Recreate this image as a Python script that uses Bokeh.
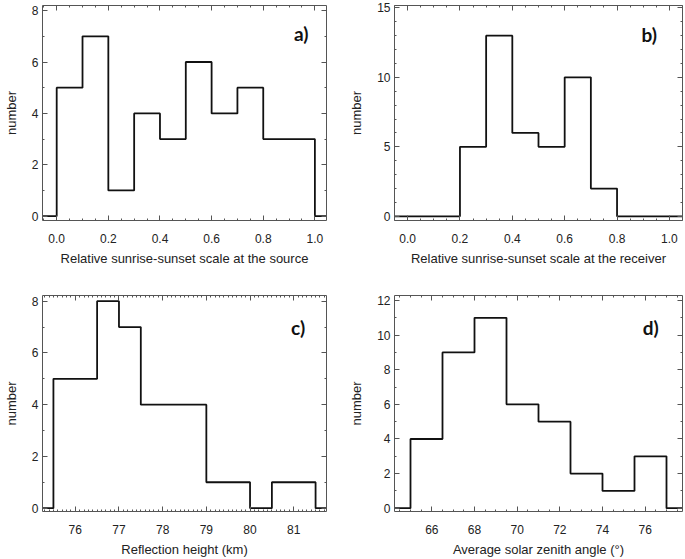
from bokeh.plotting import figure
from bokeh.layouts import column, row
from bokeh.models import (LinearAxis, SingleIntervalTicker, Range1d, Label,
                          PrintfTickFormatter, CustomLabelingPolicy)
from bokeh.embed import file_html
from bokeh.resources import INLINE

# ---- data ----
a_edges = [-0.1, 0.0, 0.1, 0.2, 0.3, 0.4, 0.5, 0.6, 0.7, 0.8, 0.9, 1.0, 1.1]
a_counts = [0, 5, 7, 1, 4, 3, 6, 4, 5, 3, 3, 0]

b_edges = [-0.1, 0.0, 0.1, 0.2, 0.3, 0.4, 0.5, 0.6, 0.7, 0.8, 0.9, 1.0, 1.1]
b_counts = [0, 0, 0, 5, 13, 6, 5, 10, 2, 0, 0, 0]

c_edges = [75.0, 75.5, 76.0, 76.5, 77.0, 77.5, 78.0, 78.5, 79.0, 79.5, 80.0, 80.5, 81.0, 81.5, 82.0]
c_counts = [0, 5, 5, 8, 7, 4, 4, 4, 1, 1, 0, 1, 1, 0]

d_edges = [63.5, 65.0, 66.5, 68.0, 69.5, 71.0, 72.5, 74.0, 75.5, 77.0, 78.5]
d_counts = [0, 4, 9, 11, 6, 5, 2, 1, 3, 0]

a_xlabel = "Relative sunrise-sunset scale at the source"
b_xlabel = "Relative sunrise-sunset scale at the receiver"
c_xlabel = "Reflection height (km)"
d_xlabel = "Average solar zenith angle (\u00b0)"
y_label = "number"

FONT = "Liberation Sans"
AX = "#555555"
TXT = "#222222"


def style_axis(ax, labels=True):
    ax.major_tick_in = 5
    ax.major_tick_out = 0
    ax.minor_tick_in = 2
    ax.minor_tick_out = 0
    ax.axis_line_color = AX
    ax.major_tick_line_color = AX
    ax.minor_tick_line_color = AX
    ax.axis_line_width = 1
    if labels:
        ax.major_label_text_font = FONT
        ax.major_label_text_font_size = "12px"
        ax.major_label_text_color = TXT
        ax.axis_label_text_font = FONT
        ax.axis_label_text_font_size = "13px"
        ax.axis_label_text_font_style = "normal"
        ax.axis_label_text_color = TXT
    else:
        ax.major_label_text_font_size = "0px"
        ax.major_label_policy = CustomLabelingPolicy(code="return new Set()")
        ax.major_label_standoff = 0
        ax.axis_label_standoff = 0
        ax.axis_label = None


def make(edges, counts, xr, yr, xint, xminor, yint, yminor, xlabel, panel, lx, ly,
         width, height, bl, br, bt, bb, xfmt=None):
    p = figure(width=width, height=height, output_backend="svg", toolbar_location=None,
               x_range=Range1d(*xr), y_range=Range1d(*yr),
               min_border_left=bl, min_border_right=br, min_border_top=bt, min_border_bottom=bb)
    p.grid.visible = False
    p.outline_line_color = None
    p.background_fill_color = "white"

    p.xaxis.ticker = SingleIntervalTicker(interval=xint, num_minor_ticks=xminor)
    p.yaxis.ticker = SingleIntervalTicker(interval=yint, num_minor_ticks=yminor)
    if xfmt:
        p.xaxis.formatter = PrintfTickFormatter(format=xfmt)
    p.xaxis.axis_label = xlabel
    p.yaxis.axis_label = y_label
    style_axis(p.xaxis[0])
    style_axis(p.yaxis[0])
    p.xaxis.major_label_standoff = 13
    p.xaxis.axis_label_standoff = 5
    p.yaxis.major_label_standoff = 4
    p.yaxis.axis_label_standoff = 10

    top = LinearAxis(ticker=SingleIntervalTicker(interval=xint, num_minor_ticks=xminor))
    style_axis(top, labels=False)
    p.add_layout(top, "above")
    right = LinearAxis(ticker=SingleIntervalTicker(interval=yint, num_minor_ticks=yminor))
    style_axis(right, labels=False)
    p.add_layout(right, "right")

    p.step(x=edges, y=list(counts) + [counts[-1]], mode="after",
           line_color="#111111", line_width=1.8)

    p.add_layout(Label(x=lx, y=ly, text=panel, text_font="Lato", text_font_style="bold",
                       text_font_size="19px", text_color="#111111",
                       text_align="center", text_baseline="middle"))
    return p


pa = make(a_edges, a_counts, (-0.055, 1.045), (-0.17, 8.2), 0.2, 4, 2, 2, a_xlabel, "a)",
          0.947, 7.1, 340, 280, 37, 14, 5, 60, xfmt="%.1f")
pb = make(b_edges, b_counts, (-0.05, 1.05), (-0.3, 15.17), 0.2, 4, 5, 5, b_xlabel, "b)",
          0.923, 13.1, 345, 280, 54, 3, 5, 60, xfmt="%.1f")
pc = make(c_edges, c_counts, (75.25, 81.75), (-0.13, 8.22), 1, 10, 2, 2, c_xlabel, "c)",
          81.1, 7.0, 340, 279, 37, 14, 15, 48)
pd_ = make(d_edges, d_counts, (64.25, 77.75), (-0.19, 12.29), 2, 4, 2, 2, d_xlabel, "d)",
           76.26, 10.46, 345, 279, 54, 3, 15, 48)

layout = column(row(pa, pb), row(pc, pd_))
open("out.html", "w").write(file_html(layout, INLINE))
